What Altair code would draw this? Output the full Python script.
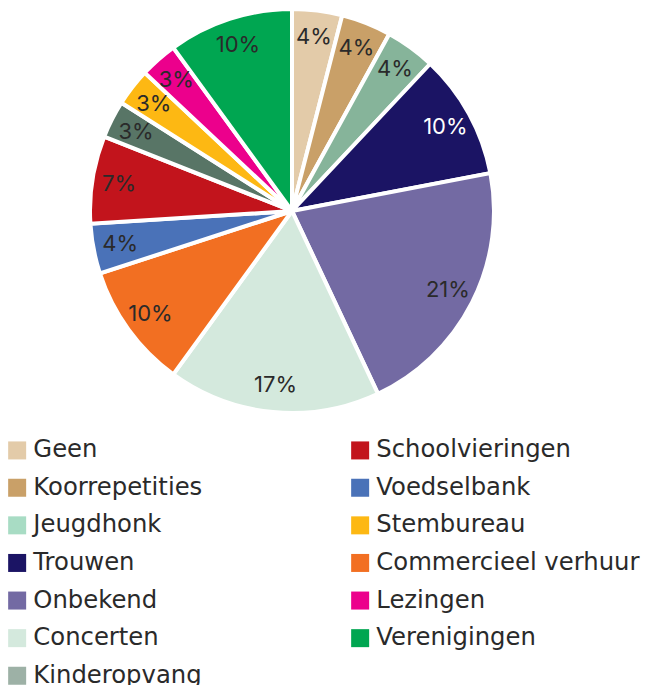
import altair as alt
import pandas as pd

categories = ["Geen", "Koorrepetities", "Jeugdhonk", "Trouwen", "Onbekend", "Concerten",
              "Commercieel verhuur", "Voedselbank", "Schoolvieringen", "Kinderopvang",
              "Stembureau", "Lezingen", "Verenigingen"]
values = [4, 4, 4, 10, 21, 17, 10, 4, 7, 3, 3, 3, 10]
slice_colors = ["#e3cba9", "#c9a068", "#86b49a", "#1b1464", "#736aa3", "#d4e9dd",
                "#f26f22", "#4a72b8", "#c2141c", "#587566", "#fdb813", "#ec008c", "#00a651"]
legend_colors = ["#e3cba9", "#c9a068", "#a8dcc4", "#1b1464", "#736aa3", "#d4e9dd",
                 "#f26f22", "#4a72b8", "#c2141c", "#9db1a6", "#fdb813", "#ec008c", "#00a651"]
# legend reading order (column-major, two columns)
legend_col1 = ["Geen", "Koorrepetities", "Jeugdhonk", "Trouwen", "Onbekend", "Concerten", "Kinderopvang"]
legend_col2 = ["Schoolvieringen", "Voedselbank", "Stembureau", "Commercieel verhuur", "Lezingen", "Verenigingen"]

df = pd.DataFrame({
    "cat": categories,
    "val": values,
    "idx": list(range(len(categories))),
    "label": [f"{v}%" for v in values],
})

legend_order = legend_col1 + legend_col2
legend_range = [legend_colors[categories.index(c)] for c in legend_order]

LEG_FONT = "DejaVu Sans"
FONT = "Inter"
cx, cy = 284, 203

base = alt.Chart(df).encode(
    theta=alt.Theta("val:Q", stack=True),
    order=alt.Order("idx:Q"),
    x=alt.value(cx), y=alt.value(cy),
)

legend_layer = base.mark_arc(outerRadius=196).encode(
    color=alt.Color("cat:N",
                    scale=alt.Scale(domain=legend_order, range=legend_range),
                    legend=alt.Legend(
                        title=None, orient="none", legendX=-3, legendY=430,
                        columns=2, columnPadding=145, rowPadding=12.6,
                        symbolType="square", symbolSize=324, symbolStrokeWidth=0,
                        labelFont=LEG_FONT, labelFontSize=24.3, labelColor="#2a2a2a",
                        labelOffset=4, labelLimit=400,
                    ))
)

pie = base.mark_arc(outerRadius=202, stroke="white", strokeWidth=4).encode(
    color=alt.Color("cat:N", scale=alt.Scale(domain=categories, range=slice_colors), legend=None)
)

labels = base.mark_text(radius=175, font=FONT, fontSize=22).encode(
    text="label:N",
    color=alt.condition(alt.datum.cat == "Trouwen", alt.value("#ffffff"), alt.value("#2a2a2a")),
)

chart = alt.layer(legend_layer, pie, labels).resolve_scale(color="independent").properties(
    width=635, height=677, padding=0,
    autosize=alt.AutoSizeParams(type="none"),
).configure_view(stroke=None)

chart.save("out.html", embed_options={"renderer": "svg", "actions": False})
